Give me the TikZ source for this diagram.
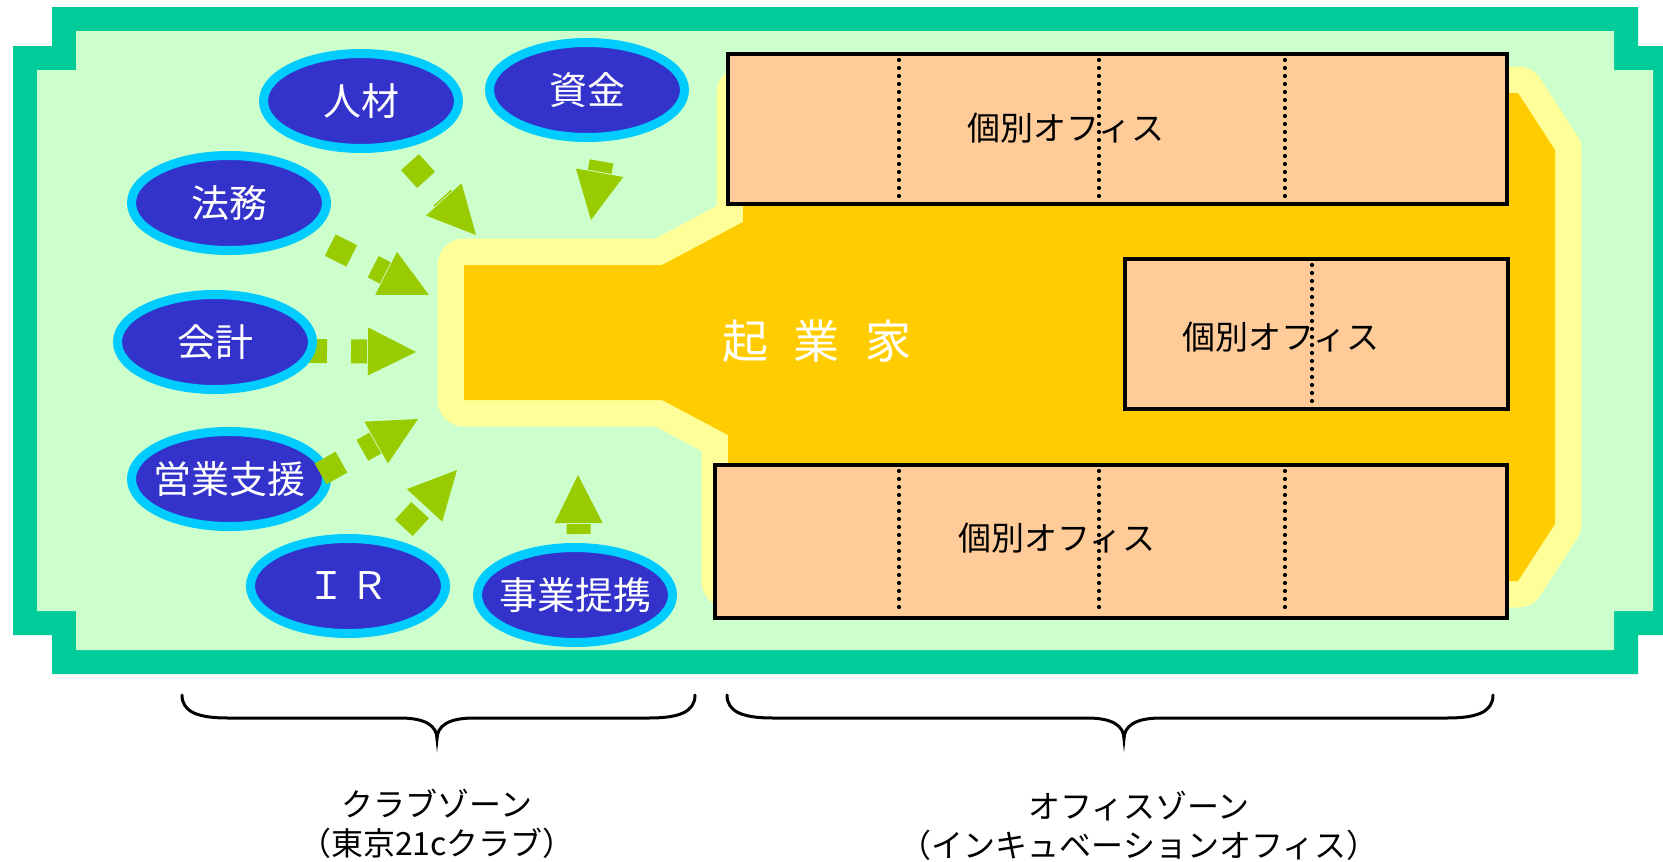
\documentclass[tikz,border=0pt]{standalone}
\usepackage{fontspec}
\setmainfont{Noto Sans CJK JP}
\usetikzlibrary{shapes.geometric,calc}
\definecolor{frameC}{HTML}{00CC99}
\definecolor{innerC}{HTML}{CCFFCC}
\definecolor{paleY}{HTML}{FFFF99}
\definecolor{coreC}{HTML}{FFCC00}
\definecolor{peachC}{HTML}{FFCC99}
\definecolor{ellFill}{HTML}{3333CC}
\definecolor{ellLine}{HTML}{00CCFF}
\definecolor{arrowC}{HTML}{99CC00}
\newcommand{\blkarrow}[4]{%
  \coordinate (#1s) at #2;
  \coordinate (#1t) at #3;
  \coordinate (#1b) at ($(#1t)!48pt!(#1s)$);
  \draw[arrowC, line width=24pt] ($(#1s)!-12pt!(#1t)$) -- ($(#1s)!12pt!(#1t)$);
  \ifx#4y\draw[arrowC, line width=24pt] ($(#1s)!36pt!(#1t)$) -- ($(#1b)!-1pt!(#1t)$);\fi
  \fill[arrowC] (#1t) -- ($(#1b)!24pt!90:(#1t)$) -- ($(#1b)!24pt!-90:(#1t)$) -- cycle;
}
\newcommand{\zw}[1]{\makebox[0pt]{#1}}
\begin{document}
\begin{tikzpicture}[x=1pt,y=-1pt,
  club/.style={ellipse, draw=ellLine, fill=ellFill, line width=9pt, minimum width=195pt, minimum height=95pt, inner sep=0pt, text=white, font=\fontsize{38}{42}\selectfont},
  officebox/.style={draw=black, fill=peachC, line width=4pt, inner sep=0pt},
  officetext/.style={text=black, font=\fontsize{33}{38}\selectfont},
  dotline/.style={black, line width=4.2pt, line cap=round, dash pattern=on 0pt off 8pt},
  zonelabel/.style={align=center, text=black, font=\fontsize{32}{39}\selectfont},
  bracecurve/.style={black, line width=3pt, line cap=round}]
\useasboundingbox (0,0) rectangle (1663,862);
\clip (0,0) rectangle (1663,862);
% frame
\fill[frameC] (52,7) -- (1638,7) -- (1638,46) -- (1677,46) -- (1677,635) -- (1638,635) -- (1638,674) -- (52,674) -- (52,635) -- (13,635) -- (13,46) -- (52,46) -- cycle;
\fill[innerC] (76,31) -- (1614,31) -- (1614,70) -- (1653,70) -- (1653,611) -- (1614,611) -- (1614,650) -- (76,650) -- (76,611) -- (37,611) -- (37,70) -- (76,70) -- cycle;
% entrepreneur core
\path[preaction={draw=paleY, line width=53pt, line join=round}, fill=coreC]
  (464,265) -- (662,265) -- (743,222) -- (743,93) -- (1518,93) -- (1555,150) -- (1555,524) -- (1518,581) -- (728,581) -- (728,435) -- (662,400) -- (464,400) -- cycle;
\node[text=white, font=\fontsize{46}{50}\selectfont] (core) at (817,341) {起\hspace{26pt}業\hspace{26pt}家};
% arrows behind ellipses
\blkarrow{a1}{(418,171)}{(476,235)}{y}
\blkarrow{a2}{(608,126)}{(591,220)}{y}
\blkarrow{a3}{(341,250.5)}{(429,295)}{y}
\blkarrow{a4}{(315,351)}{(416,352)}{y}
\blkarrow{a6}{(412,519)}{(457,470)}{n}
\blkarrow{a7}{(579,570)}{(578,475)}{y}
% ellipses
\node[club] (jinzai) at (361,101) {\zw{人材}};
\node[club] (shikin) at (587,90) {\zw{資金}};
\node[club] (homu) at (229,203) {\zw{法務}};
\node[club] (kaikei) at (215,342) {\zw{会計}};
\node[club] (eigyo) at (229,479) {\zw{営業支援}};
\node[club] (ir) at (348,586) {\zw{Ｉ\hspace{6pt}Ｒ}};
\node[club] (teikei) at (575,595) {\zw{事業提携}};
\blkarrow{a5}{(331,468)}{(418,419)}{y}
% offices
\node[officebox, minimum width=779pt, minimum height=150pt] (off1) at (1117.5,129) {};
\node[officebox, minimum width=383pt, minimum height=150pt] (off2) at (1316.5,334) {};
\node[officebox, minimum width=792pt, minimum height=153pt] (off3) at (1111,541.5) {};
\foreach \xx in {899,1099,1285} {
  \draw[dotline] (\xx,60) -- (\xx,198);
  \draw[dotline] (\xx,471) -- (\xx,612);
}
\draw[dotline] (1312,265) -- (1312,403);
\node[officetext] (t1) at (1066,128) {個別オフィス};
\node[officetext] (t2) at (1281,337) {個別オフィス};
\node[officetext] (t3) at (1057,538) {個別オフィス};
% braces
\draw[bracecurve] (182,695) .. controls (182,712) and (198,718) .. (228,718) -- (400,718) .. controls (426,718) and (437,726) .. (437,739) .. controls (437,726) and (448,718) .. (474,718) -- (649,718) .. controls (679,718) and (695,712) .. (695,695);
\draw[bracecurve] (727,695) .. controls (727,712) and (743,718) .. (773,718) -- (1087,718) .. controls (1113,718) and (1124,726) .. (1124,739) .. controls (1124,726) and (1135,718) .. (1161,718) -- (1447,718) .. controls (1477,718) and (1493,712) .. (1493,695);
\node[zonelabel] (zone1) at (437,824) {クラブゾーン\\（東京21cクラブ）};
\node[zonelabel] (zone2) at (1139,826) {オフィスゾーン\\（インキュベーションオフィス）};
\end{tikzpicture}
\end{document}
